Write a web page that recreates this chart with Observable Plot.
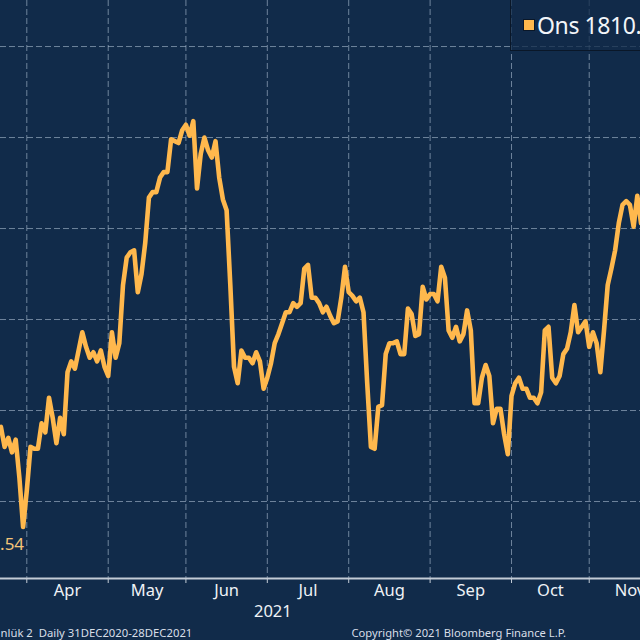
<!DOCTYPE html>
<html>
<head>
<meta charset="utf-8">
<script src="https://cdn.jsdelivr.net/npm/d3@7"></script>
<script src="https://cdn.jsdelivr.net/npm/@observablehq/plot@0.6"></script>
<style>
  html, body { margin: 0; padding: 0; background: #112b4a; overflow: hidden; }
  #wrap { position: relative; width: 640px; height: 640px; overflow: hidden; }
  #wrap svg { display: block; }
  #legend {
    position: absolute; left: 510px; top: 0; width: 130px; height: 50px;
    border-left: 1px solid #0a1728; border-bottom: 1px solid #0a1728;
    background: rgba(17, 43, 74, 0.75); overflow: hidden; white-space: nowrap;
    font-family: "Noto Sans", sans-serif; font-size: 23px; letter-spacing: -0.4px; color: #f2f5f9; line-height: 51px;
  }
  #legend i {
    position: absolute; left: 12px; top: 19px; width: 10px; height: 10px;
    background: #ffb84d; border: 1px solid #0a1728;
  }
  #legend span { position: absolute; left: 26px; top: 0; }
</style>
</head>
<body>
<div id="wrap">
  <div id="chart"></div>
  <div id="legend"><i></i><span>Ons 1810.</span></div>
</div>
<script>
// every weekday from 23 Mar 2021, one close per day
const closes = [
  1741, 1730, 1735, 1727, 1734, 1713, 1686,
  1706, 1730, 1729, 1729, 1743, 1738, 1757, 1746, 1732, 1746, 1737, 1771, 1777, 1773, 1783, 1793, 1785, 1779, 1782, 1777, 1783, 1774,
  1769, 1793, 1779, 1787, 1819, 1834, 1837, 1838, 1815, 1825, 1842, 1867, 1870, 1870, 1878, 1881, 1881, 1899, 1898, 1897, 1904,
  1907, 1901, 1909, 1872, 1891, 1900, 1893, 1889, 1898, 1878, 1866, 1860, 1819, 1774, 1765, 1783, 1779, 1779, 1776, 1782, 1777, 1762,
  1768, 1776, 1787, 1792, 1798, 1804, 1804, 1809, 1807, 1809, 1828, 1830, 1812, 1812, 1809, 1804, 1807, 1802, 1798, 1799, 1812, 1829,
  1815, 1813, 1810, 1812, 1804, 1765, 1730, 1729, 1752, 1753, 1781, 1787, 1787, 1788, 1781, 1781, 1806, 1803, 1791, 1792, 1818, 1811,
  1814, 1814, 1810, 1829, 1823, 1794, 1790, 1796, 1788, 1792, 1805, 1794, 1754, 1754, 1768, 1775, 1769, 1743, 1751, 1751, 1737, 1726,
  1758, 1765, 1768, 1762, 1762, 1757, 1757, 1754, 1760, 1794, 1796, 1768, 1765, 1769, 1781, 1784, 1793, 1808, 1793, 1796, 1799,
  1785, 1793, 1787, 1771, 1794, 1819, 1828, 1838, 1853, 1863, 1865, 1863, 1851, 1868, 1853
]
const monthNames = ["Apr", "May", "Jun", "Jul", "Aug", "Sep", "Oct", "Nov"]
const monthStarts = ["2021-04-01", "2021-05-03", "2021-06-01", "2021-07-01", "2021-08-02", "2021-09-01", "2021-10-01", "2021-11-01", "2021-12-01"]
const priceTicks = [1700, 1750, 1800, 1850, 1900, 1950]

const weekdays = d3.utcDay.range(new Date("2021-03-23"), new Date("2021-12-02")).filter(d => d.getUTCDay() % 6)
const dayIndex = s => weekdays.findIndex(d => +d === +new Date(s))
const series = closes.map((v, i) => ({i, v}))
const starts = monthStarts.map(dayIndex)
const lowest = series[d3.leastIndex(closes)]

// the month names sit in the middle of each month, not on the ticks
const monthLabels = monthNames.map((name, k) => ({name, i: (starts[k] + starts[k + 1]) / 2}))

const font = '"Noto Sans", sans-serif'
const chart = Plot.plot({
  width: 640,
  height: 640,
  marginTop: 0,
  marginRight: 0,
  marginBottom: 62,
  marginLeft: 0,
  style: {background: "#112b4a", fontFamily: font},
  x: {type: "linear", domain: [-0.11, 172.86]},
  y: {domain: [1657.7, 1975.3]},
  marks: [
    Plot.gridX(starts.slice(0, -1), {stroke: "#a9bbce", strokeOpacity: 0.62, strokeDasharray: "6,3"}),
    Plot.gridY(priceTicks, {stroke: "#a9bbce", strokeOpacity: 0.62, strokeDasharray: "6,3"}),
    Plot.axisY({ticks: [], label: null}),
    Plot.axisX(starts.slice(0, -1), {anchor: "bottom", tickSize: 5, tickFormat: () => "", stroke: "#c3ccd6", label: null}),
    Plot.ruleY([1657.7], {stroke: "#c3ccd6", strokeWidth: 2}),
    Plot.line(series, {x: "i", y: "v", stroke: "#ffb84d", strokeWidth: 4.6, strokeLinejoin: "round"}),
    Plot.text([lowest], {x: "i", frameAnchor: "bottom", dy: -29, dx: 1, text: () => ".54", textAnchor: "end", fill: "#f5c578", fontSize: 17}),
    Plot.text(monthLabels, {x: "i", text: "name", frameAnchor: "bottom", dy: 17, fill: "#eef2f6", fontSize: 16.5}),
    Plot.text(["2021"], {x: dayIndex("2021-07-01") + 1.5, frameAnchor: "bottom", dy: 38, fill: "#eef2f6", fontSize: 16.5}),
    Plot.text(["nlük 2  Daily 31DEC2020-28DEC2021"], {frameAnchor: "bottom-left", dy: 58, fill: "#d8dfe8", fontSize: 11.3}),
    Plot.text(["Copyright© 2021 Bloomberg Finance L.P."], {frameAnchor: "bottom-left", dx: 351, dy: 58, fill: "#d8dfe8", fontSize: 11.2})
  ]
})
d3.select("#chart").append(() => chart)
</script>
</body>
</html>
